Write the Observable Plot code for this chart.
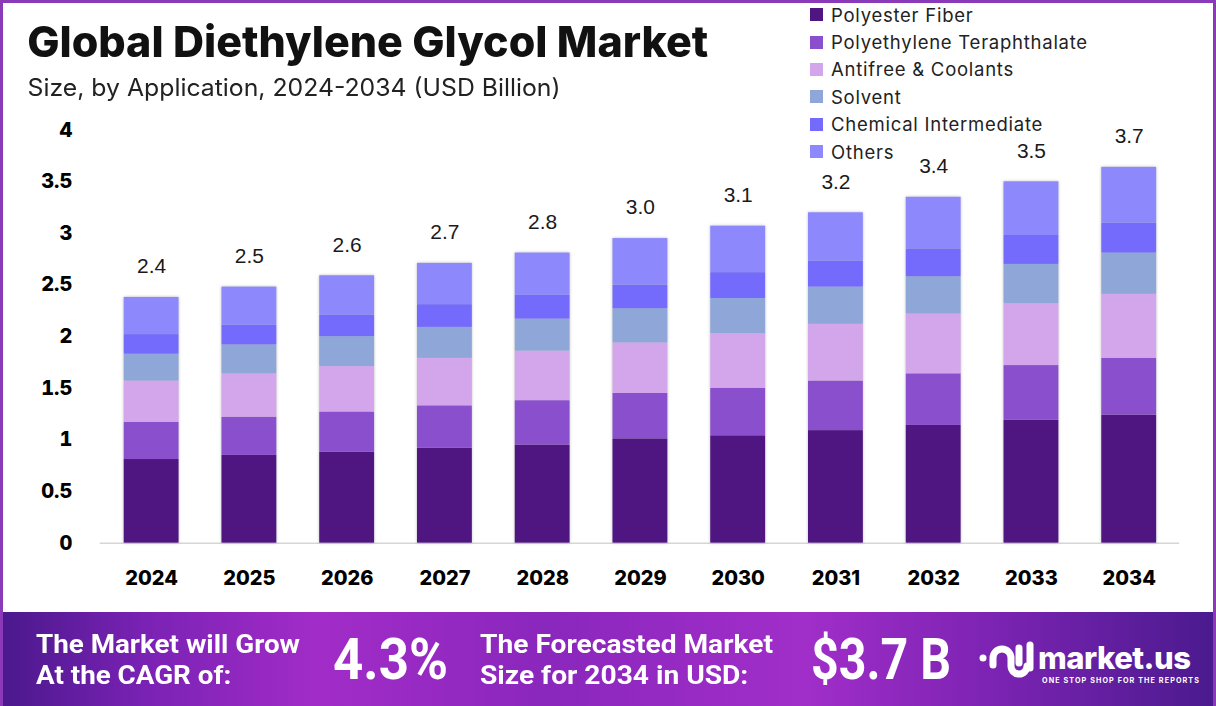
<!DOCTYPE html>
<html>
<head>
<meta charset="utf-8">
<script src="https://cdn.jsdelivr.net/npm/d3@7"></script>
<script src="https://cdn.jsdelivr.net/npm/@observablehq/plot@0.6"></script>
<style>
  html, body { margin: 0; padding: 0; background: #fff; }
  #frame { position: relative; width: 1216px; height: 706px; overflow: hidden; background: #fff; box-sizing: border-box; border: 3px solid #8a3ab9; border-bottom: none; }
  #chart { position: absolute; left: -3px; top: -3px; }
  #title { position: absolute; left: 24px; top: 12px; font-family: Inter, sans-serif; font-weight: 800; font-size: 43px; color: #111; white-space: nowrap; }
  #subtitle { position: absolute; left: 33px; top: 70px; font-family: Inter, sans-serif; font-weight: 400; font-size: 24px; color: #222; white-space: nowrap; }
  #legend { position: absolute; left: 807px; top: -2px; font-family: Inter, sans-serif; font-size: 18.5px; letter-spacing: 0.75px; color: #222; }
  .lg { display: flex; align-items: center; height: 27.4px; white-space: nowrap; }
  .sw { width: 13px; height: 13px; margin-right: 8px; }
  #banner { position: absolute; left: -3px; top: 609px; width: 1216px; height: 97px;
    background: linear-gradient(90deg, #4a188c 0%, #7a22b4 12%, #a22cc8 26%, #8a27bd 45%, #a12ec9 66%, #7b23b2 82%, #4a1a8e 100%); }
  .bt { position: absolute; color: #fff; font-family: Roboto, sans-serif; font-weight: 700; white-space: nowrap; transform-origin: 0 0; }
  .small { font-size: 26px; line-height: 31px; }
  .big { font-size: 57px; line-height: 60px; }
</style>
</head>
<body>
<div id="frame">
  <div id="chart"></div>
  <div id="title" class="fit" data-w="681">Global Diethylene Glycol Market</div>
  <div id="subtitle" class="fit" data-w="533">Size, by Application, 2024-2034 (USD Billion)</div>
  <div id="legend"></div>
  <div id="banner">
    <div class="bt small fit" data-w="264" style="left:36px; top:17px;">The Market will Grow<br>At the CAGR of:</div>
    <div class="bt big fit" data-w="115" style="left:333px; top:18px;">4.3%</div>
    <div class="bt small fit" data-w="293" style="left:480px; top:17px;">The Forecasted Market<br>Size for 2034 in USD:</div>
    <div class="bt big fit" data-w="140" style="left:811px; top:18px;">$3.7 B</div>
    <svg style="position:absolute; left:972px; top:21px;" width="240" height="60" viewBox="0 0 240 60">
      <g fill="none" stroke="#fff" stroke-width="7" stroke-linecap="round">
        <circle cx="11" cy="25" r="3.5" fill="#fff" stroke="none"/>
        <path d="M21 32 V25 a9 9 0 0 1 18 0 V33 a8 8 0 0 0 16 0"/>
        <path d="M47 15 V30"/>
        <path d="M58 12 V35"/>
      </g>
      <text x="66" y="36" fill="#fff" font-family="Inter, sans-serif" font-weight="800" font-size="31" letter-spacing="-0.5">market.us</text>
      <text x="70" y="50" fill="#fff" font-family="Inter, sans-serif" font-weight="700" font-size="7.2" letter-spacing="1.1">ONE STOP SHOP FOR THE REPORTS</text>
    </svg>
  </div>
</div>
<script>
const years = ["2024","2025","2026","2027","2028","2029","2030","2031","2032","2033","2034"];
const segments = ["Polyester Fiber","Polyethylene Teraphthalate","Antifree & Coolants","Solvent","Chemical Intermediate","Others"];
const colors = ["#4f1580","#8a4fcc","#d3a5eb","#8ea7d8","#746afc","#8d89fc"];
const polyesterFiber = [0.81,0.85,0.88,0.92,0.95,1.01,1.04,1.09,1.14,1.19,1.24];
const pet            = [0.36,0.37,0.39,0.41,0.43,0.44,0.46,0.48,0.50,0.53,0.55];
const antifree       = [0.40,0.42,0.44,0.46,0.48,0.49,0.53,0.55,0.58,0.60,0.62];
const solvent        = [0.26,0.28,0.29,0.30,0.31,0.33,0.34,0.36,0.36,0.38,0.40];
const chemical       = [0.19,0.19,0.21,0.22,0.23,0.23,0.25,0.25,0.27,0.28,0.29];
const others         = [0.36,0.37,0.38,0.40,0.41,0.45,0.45,0.47,0.50,0.52,0.54];
const totalLabels = ["2.4","2.5","2.6","2.7","2.8","3.0","3.1","3.2","3.4","3.5","3.7"];
const yTicks = [0,0.5,1,1.5,2,2.5,3,3.5,4];

const series = [polyesterFiber, pet, antifree, solvent, chemical, others];
const table = [];
years.forEach((yr, i) => segments.forEach((s, j) => table.push({year: yr, segment: s, value: series[j][i]})));
const totals = years.map((yr, i) => ({year: yr, total: d3.sum(series, s => s[i]), label: totalLabels[i]}));

const chart = Plot.plot({
  width: 1216, height: 612,
  marginLeft: 100, marginRight: 34, marginTop: 130, marginBottom: 68,
  x: {domain: years, paddingInner: 0.44, paddingOuter: 0.22, label: null},
  y: {domain: [0, 4], label: null},
  color: {domain: segments, range: colors},
  style: {background: "transparent", fontFamily: "Inter, sans-serif", color: "#000", overflow: "visible"},
  marks: [
    Plot.ruleY([0], {stroke: "#d6d6d6", strokeWidth: 1.5}),
    Plot.barY(table, {x: "year", y: "value", fill: "segment"}),
    Plot.text(totals, {x: "year", y: "total", text: "label", dy: -31, fontSize: 21, fontFamily: "Liberation Sans, Arial, sans-serif", fill: "#1a1a1a"}),
    Plot.axisX({tickSize: 0, tickPadding: 28, fontSize: 20, fontWeight: 800}),
    Plot.axisY({ticks: yTicks, tickSize: 0, tickPadding: 28, fontSize: 20, fontWeight: 800, tickFormat: d => String(d)})
  ]
});
chart.querySelectorAll('g[aria-label="bar"]').forEach(g => g.style.filter = "drop-shadow(0px 0px 1.5px rgba(0,0,0,0.25))");
document.getElementById("chart").appendChild(chart);

const lg = document.getElementById("legend");
segments.forEach((s, j) => {
  const row = document.createElement("div");
  row.className = "lg";
  row.innerHTML = `<span class="sw" style="background:${colors[j]}"></span><span>${s.replace("&","&amp;")}</span>`;
  lg.appendChild(row);
});

function fit() {
  document.querySelectorAll(".fit").forEach(el => {
    el.style.transform = "none";
    const w = el.getBoundingClientRect().width;
    const target = +el.dataset.w;
    if (w > 0) el.style.transform = `scaleX(${target / w})`;
  });
}
fit();
if (document.fonts && document.fonts.ready) document.fonts.ready.then(fit);
</script>
</body>
</html>
